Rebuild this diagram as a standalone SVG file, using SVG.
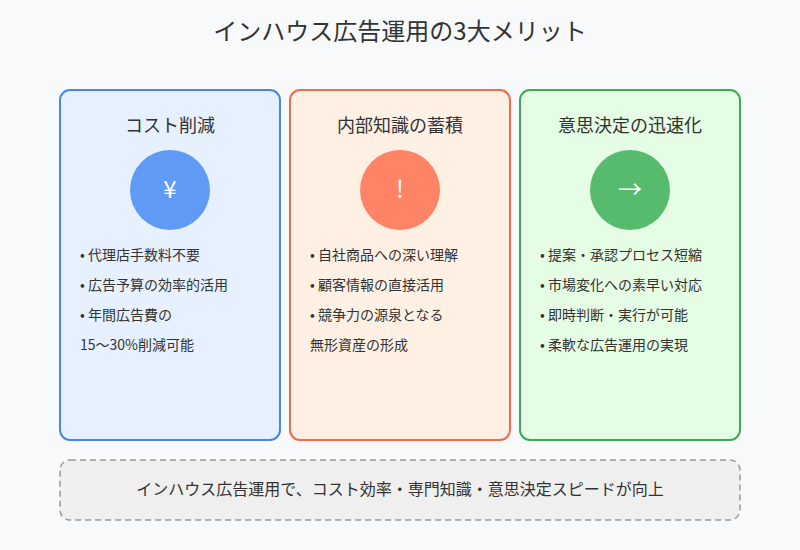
<svg xmlns="http://www.w3.org/2000/svg" width="800" height="550" viewBox="0 0 800 550">
<style>
text{font-family:"Noto Sans CJK JP","Noto Sans",sans-serif;fill:#333}
.t{font-size:18px;text-anchor:middle}
.b{font-size:14px}
.i{font-size:24px;fill:#fff;text-anchor:middle}
</style>
<rect width="800" height="550" fill="#f8f9fb"/>
<text x="400" y="40" font-size="24" text-anchor="middle">インハウス広告運用の3大メリット</text>
<g id="cost">
<rect x="60" y="90" width="220" height="350" rx="10" fill="#e6f0ff" stroke="#4a86e8" stroke-width="2"/>
<text class="t" x="170" y="132">コスト削減</text>
<circle cx="170" cy="190" r="40" fill="#5f9af5"/>
<text class="i" x="170" y="198">¥</text>
<text class="b" x="80" y="260">• 代理店手数料不要</text>
<text class="b" x="80" y="290">• 広告予算の効率的活用</text>
<text class="b" x="80" y="320">• 年間広告費の</text>
<text class="b" x="80" y="350">15〜30%削減可能</text>
</g>
<g id="knowledge">
<rect x="290" y="90" width="220" height="350" rx="10" fill="#fff0e4" stroke="#f26b4a" stroke-width="2"/>
<text class="t" x="400" y="132">内部知識の蓄積</text>
<circle cx="400" cy="190" r="40" fill="#ff8466"/>
<text class="i" x="400" y="198">!</text>
<text class="b" x="310" y="260">• 自社商品への深い理解</text>
<text class="b" x="310" y="290">• 顧客情報の直接活用</text>
<text class="b" x="310" y="320">• 競争力の源泉となる</text>
<text class="b" x="310" y="350">無形資産の形成</text>
</g>
<g id="speed">
<rect x="520" y="90" width="220" height="350" rx="10" fill="#e4fde4" stroke="#3daa55" stroke-width="2"/>
<text class="t" x="630" y="132">意思決定の迅速化</text>
<circle cx="630" cy="190" r="40" fill="#56bb6d"/>
<text class="i" x="630" y="198">→</text>
<text class="b" x="540" y="260">• 提案・承認プロセス短縮</text>
<text class="b" x="540" y="290">• 市場変化への素早い対応</text>
<text class="b" x="540" y="320">• 即時判断・実行が可能</text>
<text class="b" x="540" y="350">• 柔軟な広告運用の実現</text>
</g>
<g id="summary">
<rect x="60" y="460" width="680" height="60" rx="10" fill="#efefef" stroke="#999" stroke-width="1.5" stroke-dasharray="6,4"/>
<text x="400" y="495" font-size="16" text-anchor="middle">インハウス広告運用で、コスト効率・専門知識・意思決定スピードが向上</text>
</g>
<g id="connectors"/>
</svg>
